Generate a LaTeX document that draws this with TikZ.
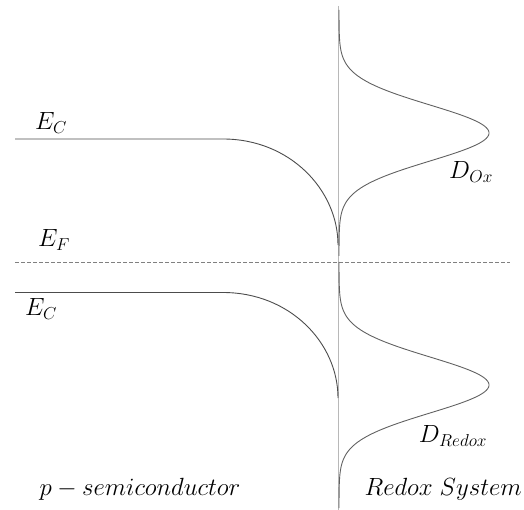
\documentclass[tikz,border=0pt]{standalone}
\begin{document}
\begin{tikzpicture}[x=1pt,y=-1pt,
  band/.style={draw=black!70,line width=0.9pt},
  axisline/.style={draw=black!28,line width=0.9pt},
  dos/.style={draw=black!62,line width=0.9pt},
  fermi/.style={draw=black!50,line width=0.8pt,dash pattern=on 3.5pt off 2.5pt},
  lbl/.style={font=\fontsize{23}{27}\selectfont,inner sep=0pt}]
\useasboundingbox (0,0) rectangle (524,510);
% interface line
\draw[axisline] (338,6) -- (338,510);
% Fermi level
\draw[fermi] (15,262) -- (510,262);
% bands
\draw[band] (15,139) -- (223,139) .. controls (290,139) and (338,190) .. (338,245);
\draw[band] (15,292.5) -- (223,292.5) .. controls (290,292.5) and (338,343) .. (338,398);
% densities of states
\draw[dos] plot[domain=10:256,samples=160,smooth] ({339+150*exp(-((\x-133)^2)/1568)},\x);
\draw[dos] plot[domain=262:508,samples=160,smooth] ({339+150*exp(-((\x-385)^2)/1568)},\x);
% labels
\node[lbl] (ec1) at (51,123) {$E_C$};
\node[lbl] (ef) at (54,240) {$E_F$};
\node[lbl] (ec2) at (41,309) {$E_C$};
\node[lbl] (dox) at (471,172) {$D_{Ox}$};
\node[lbl] (dred) at (453,436) {$D_{Redox}$};
\node[lbl] (psc) at (140,489) {$p-semiconductor$};
\node[lbl,anchor=east] (rs) at (522,489) {$Redox\ System$};
\end{tikzpicture}
\end{document}
